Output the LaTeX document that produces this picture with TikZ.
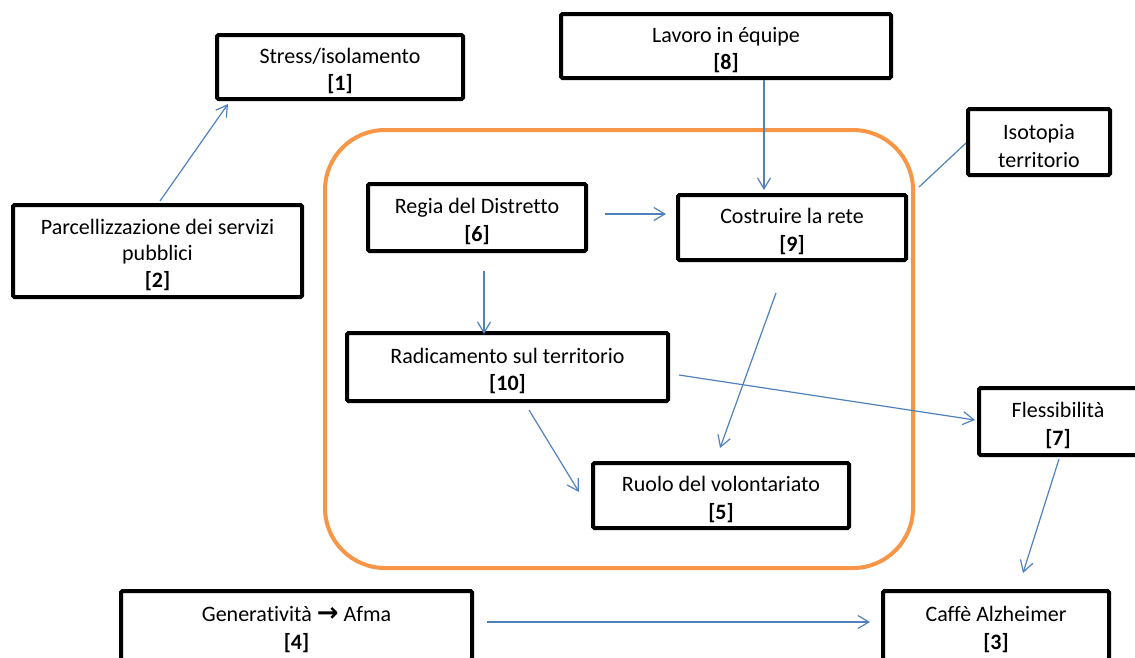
\documentclass[tikz,border=0pt]{standalone}
\usepackage{fontspec}
\setmainfont{Carlito}[Ligatures=NoCommon]
\newfontfamily\arrowfont{DejaVu Sans}
\usetikzlibrary{arrows.meta,calc}
\definecolor{linkblue}{HTML}{4F81BD}
\definecolor{framecol}{HTML}{F79646}
% invisible strut that adds a little room above the first line of a box
\newcommand{\boxstrut}{\rule{0pt}{23pt}}
\begin{document}
\begin{tikzpicture}[x=1pt,y=-1pt,
  box/.style={draw=black,line width=4pt,rounded corners=1.5pt,align=center,
    inner sep=0pt,font=\fontsize{22}{27.5}\selectfont},
  cluster/.style={draw=framecol,line width=4pt,rounded corners=60pt,inner sep=0pt},
  link/.style={draw=linkblue,line width=1.2pt,
    -{Straight Barb[length=11pt,width=13pt,line width=1.2pt]}},
  tie/.style={draw=linkblue,line width=1.2pt}]
\useasboundingbox (0,0) rectangle (1135,657);

% grouping frame
\node[cluster,minimum width=588pt,minimum height=438pt] (frame) at (619,349) {};

% concept boxes
\node[box,minimum width=246pt,minimum height=64pt] (n1) at (340,67)
  {\boxstrut Stress/isolamento\\\textbf{[1]}};
\node[box,minimum width=289pt,minimum height=92pt,
      font=\fontsize{22}{26.5}\selectfont] (n2) at (157.5,251)
  {\boxstrut Parcellizzazione dei servizi\\pubblici\\\textbf{[2]}};
\node[box,minimum width=330pt,minimum height=64pt] (n8) at (726,46)
  {\boxstrut Lavoro in équipe\\\textbf{[8]}};
\node[box,minimum width=142pt,minimum height=66pt] (iso) at (1039,142)
  {\boxstrut Isotopia\\territorio};
\node[box,minimum width=218pt,minimum height=67pt] (n6) at (477,217.5)
  {\boxstrut Regia del Distretto\\\textbf{[6]}};
\node[box,minimum width=228pt,minimum height=65pt] (n9) at (792,227.5)
  {\boxstrut Costruire la rete\\\textbf{[9]}};
\node[box,minimum width=321pt,minimum height=68pt] (n10) at (507.5,367)
  {\boxstrut Radicamento sul territorio\\\textbf{[10]}};
\node[box,minimum width=256pt,minimum height=65pt] (n5) at (721,495.5)
  {\boxstrut Ruolo del volontariato\\\textbf{[5]}};
\node[box,minimum width=158pt,minimum height=67pt] (n7) at (1058,421.5)
  {\boxstrut Flessibilità\\\textbf{[7]}};
\node[box,minimum width=351pt,minimum height=69pt] (n4) at (296.5,625.5)
  {\boxstrut Generatività {\arrowfont\bfseries\fontsize{26}{26}\selectfont →} Afma\\\textbf{[4]}};
\node[box,minimum width=226pt,minimum height=69pt] (n3) at (996,625.5)
  {\boxstrut Caffè Alzheimer\\\textbf{[3]}};

% connectors
\draw[link] ($(n2.north)+(2.5,-2)$) -- ($(n1.south west)+(13,3)$);
\draw[link] ($(n8.south)+(38,0)$) -- ($(n9.north)+(-28,-3)$);
\draw[link] ($(n6.east)+(17,-3.5)$) -- ($(n9.west)+(-10,-13.5)$);
\draw[link] ($(n6.south)+(7,18)$) -- ($(n10.north)+(-23.5,3)$);
\draw[link] ($(n9.south)+(-16,31)$) -- ($(n5.north)+(-1,-13)$);
\draw[link] ($(n10.east)+(9,8)$) -- ($(n7.west)+(-2,-1.5)$);
\draw[link] ($(n10.south)+(21.5,7)$) -- ($(n5.west)+(-12,-3.5)$);
\draw[tie] ($(frame.north east)+(4,59)$) -- ($(iso.west)+(0,1)$);
\draw[link] ($(n7.south)+(1,2)$) -- ($(n3.north)+(27,-16)$);
\draw[link] ($(n4.east)+(13,-3.5)$) -- ($(n3.west)+(-11,-3.5)$);
\end{tikzpicture}
\end{document}
